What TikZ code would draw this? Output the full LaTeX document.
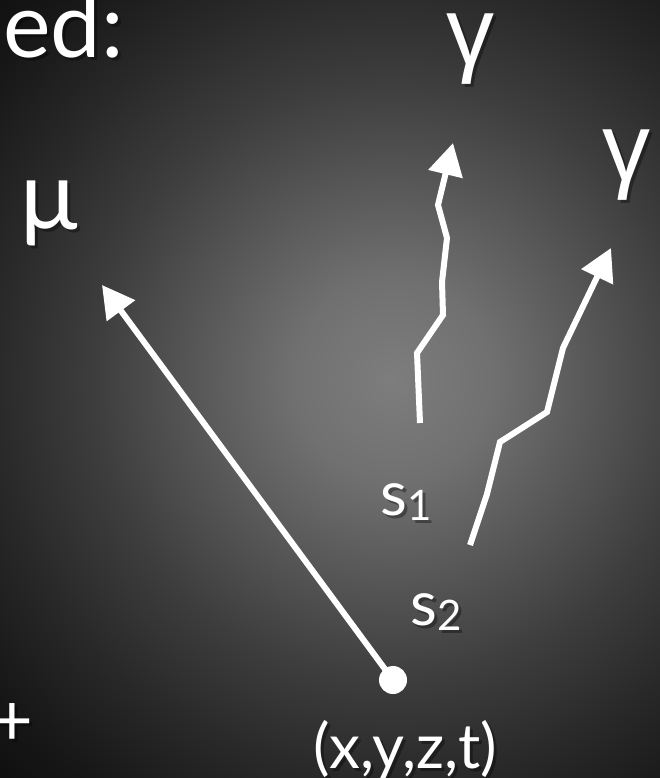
\documentclass[tikz,border=0pt]{standalone}
\usepackage{fontspec}
\setmainfont{Lato}
\newfontfamily\gfont{Liberation Sans}
\usetikzlibrary{arrows.meta}
\pgfdeclareradialshading{bgshade}{\pgfpoint{0bp}{0bp}}{%
  rgb(0bp)=(0.49,0.49,0.49);
  rgb(4.46bp)=(0.44,0.44,0.44);
  rgb(8.93bp)=(0.34,0.34,0.34);
  rgb(13.39bp)=(0.24,0.24,0.24);
  rgb(17.86bp)=(0.16,0.16,0.16);
  rgb(22.32bp)=(0.09,0.09,0.09);
  rgb(25bp)=(0.06,0.06,0.06);
  rgb(50bp)=(0.06,0.06,0.06)}
\tikzset{
  wline/.style={white, line width=6pt, line join=miter},
  warrow/.style={wline, -{Triangle[length=32pt,width=34pt]}},
  lbl/.style={text=white, inner sep=0pt},
  shlbl/.style={text=black, text opacity=0.35, inner sep=0pt, xshift=3pt, yshift=-3pt},
}
\newcommand{\sublbl}[2]{#1\raisebox{-5pt}{\fontsize{42}{42}\selectfont #2}}
\begin{document}
\begin{tikzpicture}[x=1pt,y=-1pt]
\useasboundingbox (0,0) rectangle (660,778);
\clip (0,0) rectangle (660,778);
\fill[black!94] (0,0) rectangle (660,778);
\shade[shading=bgshade] (393,380) circle[radius=560pt];

% labels with soft shadows
\foreach \st in {shlbl,lbl}{
  \node[\st, anchor=base west] at (3,58) {\fontsize{90}{90}\selectfont ed:};
  \node[\st, anchor=base] at (470,65) {\gfont\fontsize{96}{96}\selectfont γ};
  \node[\st, anchor=base] at (626,180) {\gfont\fontsize{96}{96}\selectfont γ};
  \node[\st, anchor=base] at (49,229) {\fontsize{96}{96}\selectfont μ};
  \node[\st, anchor=base west] at (380,515) {\fontsize{62}{62}\selectfont \sublbl{s}{1}};
  \node[\st, anchor=base west] at (410,625) {\fontsize{62}{62}\selectfont \sublbl{s}{2}};
  \node[\st, anchor=base] at (405,768) {\fontsize{62}{62}\selectfont (x,y,z,t)};
  \node[\st, anchor=center] at (12,725) {\fontsize{72}{72}\selectfont +};
}

% vertex
\node[circle, fill=white, minimum size=28pt, inner sep=0pt] (v) at (393,680) {};

% muon track
\coordinate (mutip) at (102,285);
\draw[warrow] (v.center) -- (mutip);

% photon 1
\coordinate (a1) at (420,423);
\coordinate (a2) at (417,353);
\coordinate (a3) at (443,315);
\coordinate (a4) at (442,282);
\coordinate (a5) at (447,238);
\coordinate (a6) at (438,205);
\coordinate (a7) at (453,143);
\draw[warrow] (a1) -- (a2) -- (a3) -- (a4) -- (a5) -- (a6) -- (a7);

% photon 2
\coordinate (b1) at (470,545);
\coordinate (b2) at (487,494);
\coordinate (b3) at (500,442);
\coordinate (b4) at (547,412);
\coordinate (b5) at (563,348);
\coordinate (b6) at (611,248);
\draw[warrow] (b1) -- (b2) -- (b3) -- (b4) -- (b5) -- (b6);
\end{tikzpicture}
\end{document}
